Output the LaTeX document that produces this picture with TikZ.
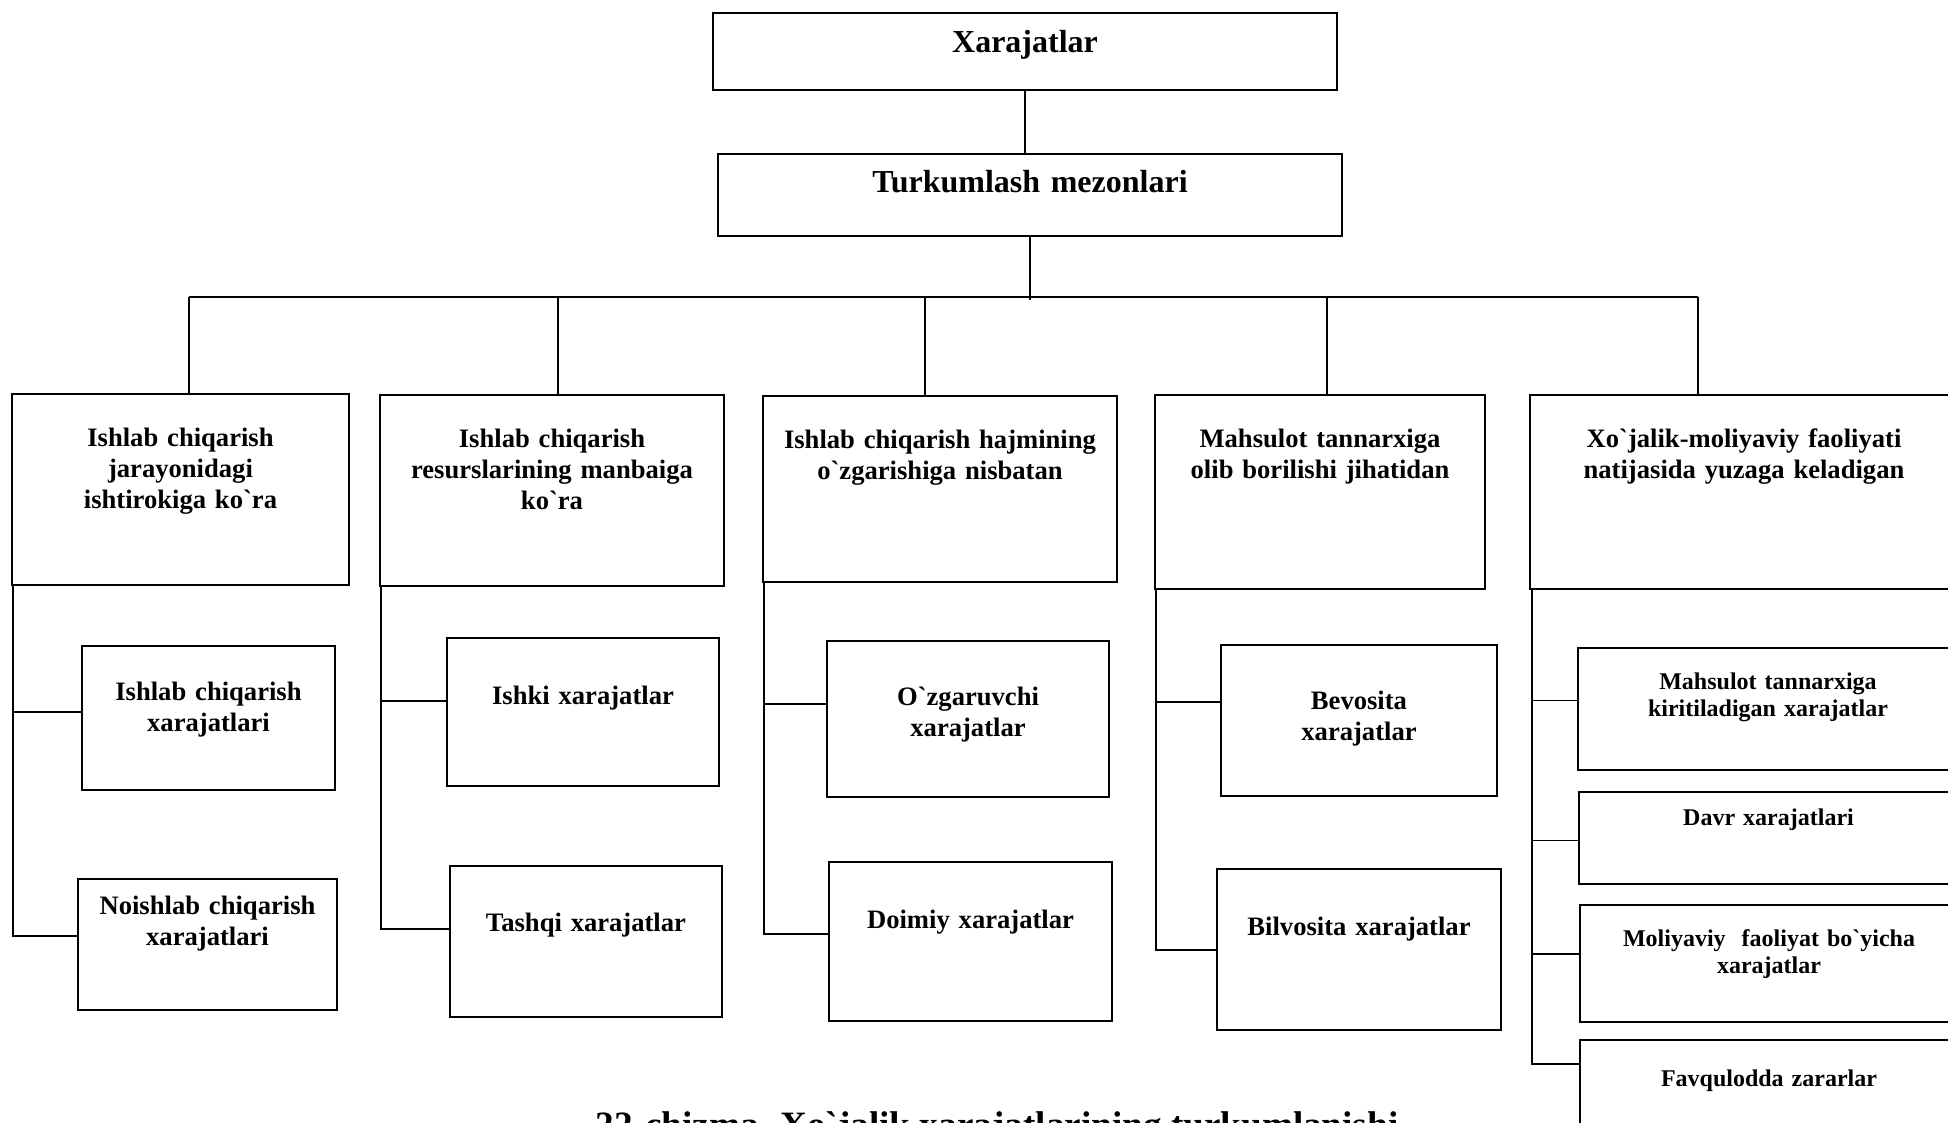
\documentclass[tikz,border=0pt]{standalone}
\usepackage{fontspec}
\setmainfont{Liberation Serif}[Ligatures=TeXOff]

\begin{document}
\begin{tikzpicture}[
            x = 0.5pt, y = -0.5pt, % one unit per pixel, y runs down
            line width = 0.9pt % connector style
        ]

        \tikzstyle{box}=[
            draw = black,
            line width = 1.1pt,
            inner sep = 0pt,
            align = center,
            anchor = north,
            font = \fontsize{13.3}{15.5}\selectfont\bfseries
        ]
        \tikzstyle{small box}=[
            box,
            font = \fontsize{12}{13.5}\selectfont\bfseries
        ]
        \tikzstyle{top box}=[
            box,
            font = \fontsize{16}{19}\selectfont\bfseries
        ]

        \useasboundingbox (0,0) rectangle (1948,1123);

        % top of the tree
        \node[top box, text width=312pt, text height=19.5pt, text depth=19pt] (xar) at (1025,12) {Xarajatlar};
        \node[top box, text width=312pt, text height=19pt, text depth=22pt] (turk) at (1030,153) {Turkumlash mezonlari};

        % criteria
        \node[box, text width=168.5pt, text height=26pt, text depth=69.5pt] (c1) at (180.5,393) {Ishlab chiqarish\\jarayonidagi\\ishtirokiga ko`ra};
        \node[box, text width=172pt, text height=26pt, text depth=69.5pt] (c2) at (552,394) {Ishlab chiqarish\\resurslarining manbaiga\\ko`ra};
        \node[box, text width=177pt, text height=26pt, text depth=67pt] (c3) at (940,395) {Ishlab chiqarish hajmining\\o`zgarishiga nisbatan};
        \node[box, text width=165pt, text height=26pt, text depth=71pt] (c4) at (1320,394) {Mahsulot tannarxiga\\olib borilishi jihatidan};
        \node[box, text width=214pt, text height=26pt, text depth=71pt] (c5) at (1744,394) {Xo`jalik-moliyaviy faoliyati\\natijasida yuzaga keladigan};

        % kinds of costs
        \node[box, text width=126.5pt, text height=27pt, text depth=45pt] (s11) at (208.5,645) {Ishlab chiqarish\\xarajatlari};
        \node[box, text width=129.5pt, text height=17.5pt, text depth=48pt] (s12) at (207.5,878) {Noishlab chiqarish\\xarajatlari};
        \node[box, text width=136pt, text height=33pt, text depth=41pt] (s21) at (583,637) {Ishki xarajatlar};
        \node[box, text width=136pt, text height=32.5pt, text depth=43pt] (s22) at (586,865) {Tashqi xarajatlar};
        \node[box, text width=141pt, text height=32pt, text depth=46pt] (s31) at (968,640) {O`zgaruvchi\\xarajatlar};
        \node[box, text width=141.5pt, text height=33pt, text depth=46.5pt] (s32) at (970.5,861) {Doimiy xarajatlar};
        \node[box, text width=138pt, text height=32pt, text depth=43.5pt] (s41) at (1359,644) {Bevosita\\xarajatlar};
        \node[box, text width=142pt, text height=33pt, text depth=47.5pt] (s42) at (1359,868) {Bilvosita xarajatlar};
        \node[small box, text width=190pt, text height=20.5pt, text depth=40.5pt] (s51) at (1768,647) {Mahsulot tannarxiga\\kiritiladigan xarajatlar};
        \node[small box, text width=189.5pt, text height=16.5pt, text depth=29.5pt] (s52) at (1768.5,791) {Davr xarajatlari};
        \node[small box, text width=189pt, text height=20.5pt, text depth=38pt] (s53) at (1769,904) {Moliyaviy \ faoliyat bo`yicha\\xarajatlar};
        \node[small box, text width=189pt, text height=23pt, text depth=37pt] (s54) at (1769,1039) {Favqulodda zararlar};

        \node[font=\fontsize{18.6}{22}\selectfont\bfseries, anchor=base] (caption) at (997,1137) {22-chizma. Xo`jalik xarajatlarining turkumlanishi};

        % bus under the criteria box
        \coordinate (bus) at (1030,297);
        \coordinate (d1) at (189,297);
        \coordinate (d2) at (558,297);
        \coordinate (d3) at (925,297);
        \coordinate (d4) at (1327,297);
        \coordinate (d5) at (1698,297);

        \draw (xar.south) -- (xar.south |- turk.north);
        \draw (turk.south) -- ([yshift=-1.5pt]bus);
        \draw (d1) -- (d5);
        \foreach \d/\c in {d1/c1, d2/c2, d3/c3, d4/c4, d5/c5}
            \draw (\d) -- (\d |- \c.north);

        % side spines, stubs sit a little above the box middles
        \foreach \c/\a/\b/\ya/\yb in {c1/s11/s12/3.1/4.3, c2/s21/s22/5.6/6.2, c3/s31/s32/7.5/3.7, c4/s41/s42/9.3/0} {
            \coordinate (k\c) at ([xshift=1pt]\c.south west);
            \coordinate (a\c) at ([yshift=\ya pt]\a.west);
            \coordinate (b\c) at ([yshift=\yb pt]\b.west);
            \draw (k\c) |- (b\c);
            \draw (k\c |- a\c) -- (a\c);
        }
        \coordinate (kc5) at ([xshift=1.5pt]c5.south west);
        \coordinate (f5) at ([yshift=18pt]s54.west);
        \draw (kc5) |- (f5);
        \foreach \s/\y in {s51/4.3, s52/-1.2, s53/5} {
            \coordinate (t\s) at ([yshift=\y pt]\s.west);
            \draw (kc5 |- t\s) -- (t\s);
        }

  \end{tikzpicture}
\end{document}
